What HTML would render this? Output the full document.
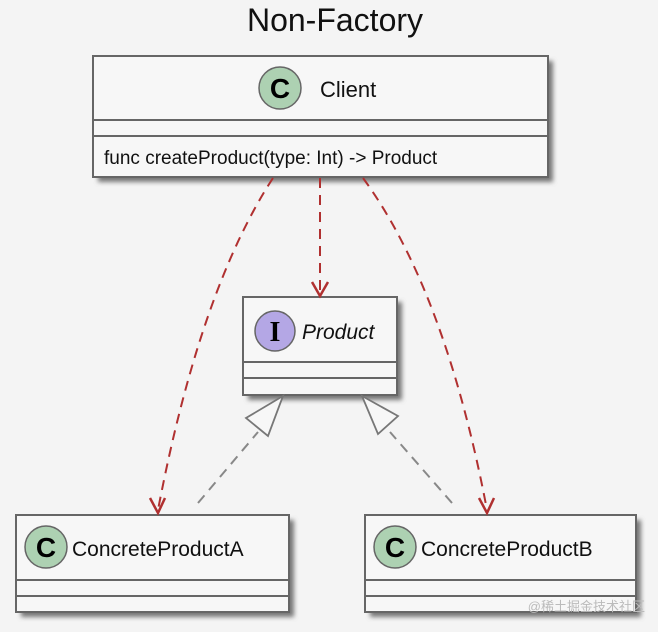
<!DOCTYPE html>
<html><head><meta charset="utf-8"><style>
html,body{margin:0;padding:0;background:#f4f4f4;}
svg{display:block}
</style></head><body>
<svg width="658" height="632" viewBox="0 0 658 632" xmlns="http://www.w3.org/2000/svg">
<rect width="658" height="632" fill="#f4f4f4"/>
<defs>
<filter id="sh" x="-10%" y="-10%" width="130%" height="140%"><feGaussianBlur stdDeviation="2.5"/></filter>
</defs>
<text x="335" y="31" text-anchor="middle" font-family="Liberation Sans, sans-serif" font-size="32" fill="#111">Non-Factory</text>

<rect x="98" y="61" width="455" height="121" fill="#777" filter="url(#sh)"/>
<rect x="248" y="302" width="154" height="98" fill="#777" filter="url(#sh)"/>
<rect x="21" y="520" width="273" height="97" fill="#777" filter="url(#sh)"/>
<rect x="370" y="520" width="271" height="97" fill="#777" filter="url(#sh)"/>

<rect x="93" y="56" width="455" height="121" fill="#f7f7f7" stroke="#666" stroke-width="2"/>
<line x1="93" y1="120" x2="548" y2="120" stroke="#666" stroke-width="2"/>
<line x1="93" y1="136" x2="548" y2="136" stroke="#666" stroke-width="2"/>
<circle cx="280" cy="88" r="21" fill="#add1b2" stroke="#666" stroke-width="1.5"/>
<text x="280" y="98" text-anchor="middle" font-family="Liberation Sans, sans-serif" font-weight="bold" font-size="28" fill="#000">C</text>
<text x="320" y="97" font-family="Liberation Sans, sans-serif" font-size="22" fill="#111">Client</text>
<text x="104" y="164" font-family="Liberation Sans, sans-serif" font-size="19" fill="#111">func createProduct(type: Int) -&gt; Product</text>

<rect x="243" y="297" width="154" height="98" fill="#f7f7f7" stroke="#666" stroke-width="2"/>
<line x1="243" y1="362" x2="397" y2="362" stroke="#666" stroke-width="2"/>
<line x1="243" y1="378" x2="397" y2="378" stroke="#666" stroke-width="2"/>
<circle cx="275" cy="331" r="20" fill="#b4a7e5" stroke="#666" stroke-width="1.5"/>
<text x="275" y="341" text-anchor="middle" font-family="Liberation Serif, serif" font-weight="bold" font-size="28" fill="#000">I</text>
<text x="302" y="339" font-family="Liberation Sans, sans-serif" font-style="italic" font-size="21" fill="#111">Product</text>

<rect x="16" y="515" width="273" height="97" fill="#f7f7f7" stroke="#666" stroke-width="2"/>
<line x1="16" y1="580" x2="289" y2="580" stroke="#666" stroke-width="2"/>
<line x1="16" y1="596" x2="289" y2="596" stroke="#666" stroke-width="2"/>
<circle cx="46" cy="547" r="21" fill="#add1b2" stroke="#666" stroke-width="1.5"/>
<text x="46" y="557" text-anchor="middle" font-family="Liberation Sans, sans-serif" font-weight="bold" font-size="28" fill="#000">C</text>
<text x="72" y="556" font-family="Liberation Sans, sans-serif" font-size="21" fill="#111">ConcreteProductA</text>

<rect x="365" y="515" width="271" height="97" fill="#f7f7f7" stroke="#666" stroke-width="2"/>
<line x1="365" y1="580" x2="636" y2="580" stroke="#666" stroke-width="2"/>
<line x1="365" y1="596" x2="636" y2="596" stroke="#666" stroke-width="2"/>
<circle cx="395" cy="547" r="21" fill="#add1b2" stroke="#666" stroke-width="1.5"/>
<text x="395" y="557" text-anchor="middle" font-family="Liberation Sans, sans-serif" font-weight="bold" font-size="28" fill="#000">C</text>
<text x="421" y="556" font-family="Liberation Sans, sans-serif" font-size="21" fill="#111">ConcreteProductB</text>

<g stroke="#b03030" stroke-width="2" fill="none" stroke-dasharray="10,7">
<path d="M273 178 Q200 290 158 510"/>
<path d="M320 178 L320 294"/>
<path d="M363 178 Q445 290 487 510"/>
</g>
<g stroke="#b03030" stroke-width="2.5" fill="none">
<path d="M312 282 L320 296 L328 282"/>
<path d="M150 498 L158 513 L165 498"/>
<path d="M479 498 L487 513 L494 498"/>
</g>

<g stroke="#888" stroke-width="2" fill="none" stroke-dasharray="10,7">
<path d="M198 503 L258 432"/>
<path d="M452 503 L390 432"/>
</g>
<g stroke="#777" stroke-width="1.8" fill="#f7f7f7">
<path d="M283 396 L246 418 L268 436 Z"/>
<path d="M362 396 L378 434 L398 416 Z"/>
</g>

<text x="645" y="611" text-anchor="end" font-family="Liberation Sans, 'Noto Sans CJK SC', sans-serif" font-size="13" fill="#bbb">@稀土掘金技术社区</text>
</svg>
</body></html>
